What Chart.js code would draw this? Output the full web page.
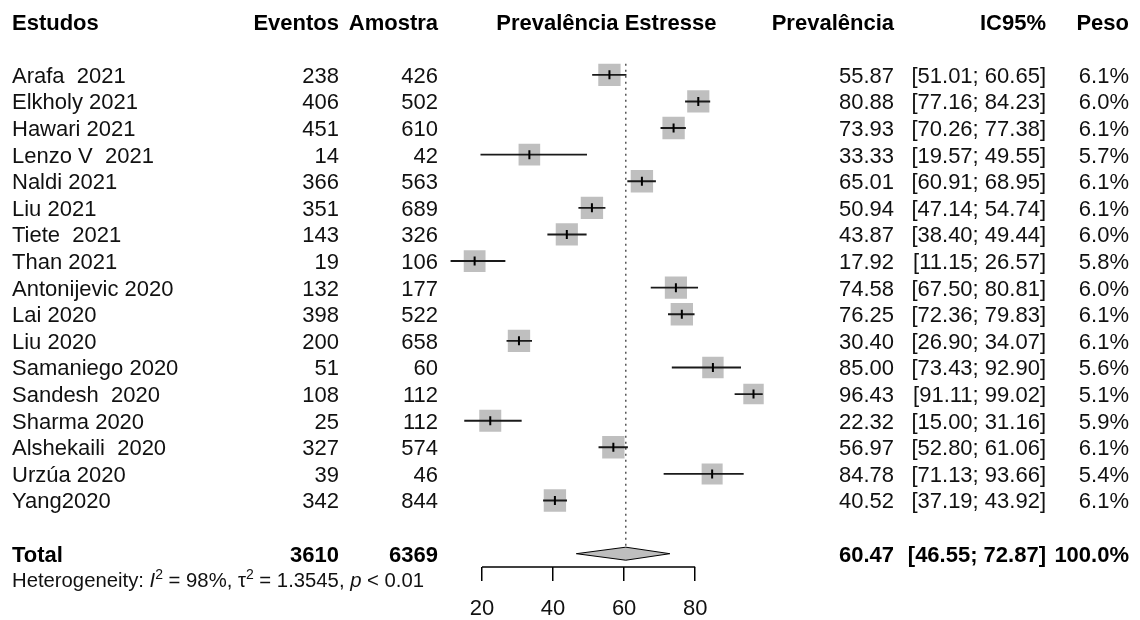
<!DOCTYPE html>
<html><head><meta charset="utf-8">
<script src="https://cdn.jsdelivr.net/npm/chart.js@4/dist/chart.umd.min.js"></script>
<style>html,body{margin:0;padding:0;background:#fff;} #wrap{width:1140px;height:620px;}</style>
</head><body><div id="wrap"><canvas id="c" width="1140" height="620"></canvas></div>
<script>
// ---------- data ----------
const studies = ['Arafa  2021','Elkholy 2021','Hawari 2021','Lenzo V  2021','Naldi 2021','Liu 2021','Tiete  2021','Than 2021','Antonijevic 2020','Lai 2020','Liu 2020','Samaniego 2020','Sandesh  2020','Sharma 2020','Alshekaili  2020','Urzúa 2020','Yang2020'];
const events = [238,406,451,14,366,351,143,19,132,398,200,51,108,25,327,39,342];
const samples = [426,502,610,42,563,689,326,106,177,522,658,60,112,112,574,46,844];
const prevalence = [55.87,80.88,73.93,33.33,65.01,50.94,43.87,17.92,74.58,76.25,30.40,85.00,96.43,22.32,56.97,84.78,40.52];
const lower = [51.01,77.16,70.26,19.57,60.91,47.14,38.40,11.15,67.50,72.36,26.90,73.43,91.11,15.00,52.80,71.13,37.19];
const upper = [60.65,84.23,77.38,49.55,68.95,54.74,49.44,26.57,80.81,79.83,34.07,92.90,99.02,31.16,61.06,93.66,43.92];
const weights = [6.1,6.0,6.1,5.7,6.1,6.1,6.0,5.8,6.0,6.1,6.1,5.6,5.1,5.9,6.1,5.4,6.1];
const totalLabel = 'Total';
const totalEvents = 3610;
const totalSamples = 6369;
const totalPrev = 60.47;
const totalLower = 46.55;
const totalUpper = 72.87;
const totalWeight = 100.0;
const hetI2 = '98%';
const hetTau2 = '1.3545';
const hetP = '< 0.01';
const xTicks = [20,40,60,80];
const headers = ['Estudos','Eventos','Amostra','Prevalência Estresse','Prevalência','IC95%','Peso'];

// ---------- layout ----------
const FONT = '"Liberation Sans", Arial, Helvetica, sans-serif';
const FS = 22;
const ROW_HEADER = -2;
const ROW_TOTAL = studies.length + 1;
const ROW_HET = ROW_TOTAL + 1;
const COL = {study:12, events:339, samples:438, prev:894, ci:1046, weight:1129};

const datasets = [];
datasets.push({type:'line', data:[{x:totalPrev,y:-0.42},{x:totalPrev,y:ROW_TOTAL-0.25}],
  borderColor:'#555', borderWidth:1.5, borderDash:[2,4], pointRadius:0, order:6, clip:false});
datasets.push({type:'scatter', data: prevalence.map((p,i)=>({x:p,y:i})), pointStyle:'rect',
  pointRadius: weights.map(w=>15.8*Math.sqrt(w/6.1)), backgroundColor:'#bfbfbf', borderWidth:0, order:5});
studies.forEach((s,i)=>datasets.push({type:'line', data:[{x:lower[i],y:i},{x:upper[i],y:i}],
  borderColor:'#1a1a1a', borderWidth:1.9, pointRadius:0, order:4}));
datasets.push({type:'scatter', data: prevalence.map((p,i)=>({x:p,y:i})), pointStyle:'line', rotation:90,
  pointRadius:4.5, borderColor:'#000', borderWidth:2, order:3});
datasets.push({type:'line', data:[{x:totalLower,y:ROW_TOTAL},{x:totalPrev,y:ROW_TOTAL-0.245},{x:totalUpper,y:ROW_TOTAL},{x:totalPrev,y:ROW_TOTAL+0.245},{x:totalLower,y:ROW_TOTAL}],
  fill:'shape', backgroundColor:'#bebebe', borderColor:'#000', borderWidth:1, pointRadius:0, tension:0, order:2});
datasets.push({type:'line', data:[{x:xTicks[0],y:ROW_TOTAL+0.5},{x:xTicks[xTicks.length-1],y:ROW_TOTAL+0.5}],
  borderColor:'#000', borderWidth:1.5, pointRadius:0, clip:false, order:1});

const textPlugin = {
  id:'forestText',
  afterDraw(chart){
    const ctx = chart.ctx, ys = chart.scales.y, xs = chart.scales.x;
    const base = r => ys.getPixelForValue(r) + 8;
    ctx.save();
    ctx.fillStyle = '#000';
    ctx.textBaseline = 'alphabetic';
    const put = (t, x, r, align, bold) => {
      ctx.font = (bold ? 'bold ' : '') + FS + 'px ' + FONT;
      ctx.textAlign = align;
      ctx.fillText(t, x, base(r));
    };
    // headers
    put(headers[0], COL.study, ROW_HEADER, 'left', true);
    put(headers[1], COL.events, ROW_HEADER, 'right', true);
    put(headers[2], COL.samples, ROW_HEADER, 'right', true);
    put(headers[3], xs.getPixelForValue((xs.min+xs.max)/2), ROW_HEADER, 'center', true);
    put(headers[4], COL.prev, ROW_HEADER, 'right', true);
    put(headers[5], COL.ci, ROW_HEADER, 'right', true);
    put(headers[6], COL.weight, ROW_HEADER, 'right', true);
    ctx.fillStyle = '#111';
    studies.forEach((s,i)=>{
      put(s, COL.study, i, 'left', false);
      put(String(events[i]), COL.events, i, 'right', false);
      put(String(samples[i]), COL.samples, i, 'right', false);
      put(prevalence[i].toFixed(2), COL.prev, i, 'right', false);
      put('[' + lower[i].toFixed(2) + '; ' + upper[i].toFixed(2) + ']', COL.ci, i, 'right', false);
      put(weights[i].toFixed(1) + '%', COL.weight, i, 'right', false);
    });
    ctx.fillStyle = '#000';
    put(totalLabel, COL.study, ROW_TOTAL, 'left', true);
    put(String(totalEvents), COL.events, ROW_TOTAL, 'right', true);
    put(String(totalSamples), COL.samples, ROW_TOTAL, 'right', true);
    put(totalPrev.toFixed(2), COL.prev, ROW_TOTAL, 'right', true);
    put('[' + totalLower.toFixed(2) + '; ' + totalUpper.toFixed(2) + ']', COL.ci, ROW_TOTAL, 'right', true);
    put(totalWeight.toFixed(1) + '%', COL.weight, ROW_TOTAL, 'right', true);
    // heterogeneity
    const parts = [{t:'Heterogeneity: '},{t:'I',it:1},{t:'2',sup:1},{t:' = ' + hetI2 + ', '},{t:'τ'},{t:'2',sup:1},{t:' = ' + hetTau2 + ', '},{t:'p',it:1},{t:' ' + hetP}];
    let x = COL.study; const hb = base(ROW_HET) - 1.5; const HFS = 20.3;
    ctx.textAlign = 'left';
    ctx.fillStyle = '#111';
    parts.forEach(p=>{
      ctx.font = (p.it ? 'italic ' : '') + (p.sup ? 14 : HFS) + 'px ' + FONT;
      ctx.fillText(p.t, x, hb + (p.sup ? -8 : 0));
      x += ctx.measureText(p.t).width;
    });
    ctx.restore();
  }
};

new Chart(document.getElementById('c'), {
  type:'scatter',
  data:{datasets},
  options:{
    responsive:false, animation:false, events:[],
    layout:{autoPadding:false, padding:{left:446.5, right:373.8, top:3, bottom:0}},
    plugins:{legend:{display:false}, tooltip:{enabled:false}, title:{display:false}},
    scales:{
      x:{type:'linear', min:10, max:100,
        afterBuildTicks: s => { s.ticks = xTicks.map(v=>({value:v})); },
        afterFit: s => { s.height = 53; },
        grid:{drawOnChartArea:false, drawTicks:true, tickLength:14, color:'#000', lineWidth:1.5},
        border:{display:false},
        ticks:{font:{family:FONT, size:FS}, color:'#111', padding:15, maxRotation:0, autoSkip:false}},
      y:{type:'linear', reverse:true, min:-2.7, max:ROW_TOTAL+0.5, display:false}
    }
  },
  plugins:[textPlugin]
});
</script></body></html>
